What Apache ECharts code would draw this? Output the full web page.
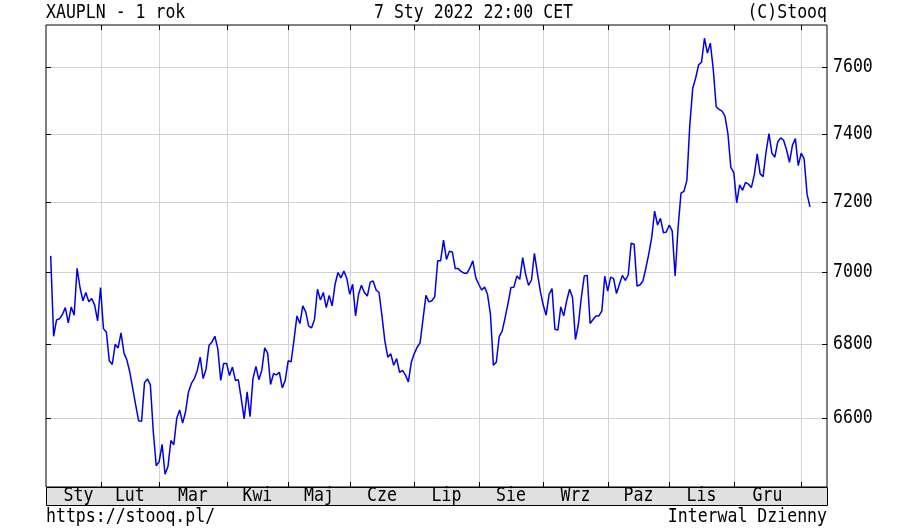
<!DOCTYPE html>
<html><head><meta charset="utf-8">
<script src="https://cdn.jsdelivr.net/npm/echarts@6/dist/echarts.min.js"></script>
<style>html,body{margin:0;padding:0;background:#fff}#c{width:907px;height:528px}</style>
</head><body><div id="c"></div>
<script>
// Daily XAUPLN close, 7 Jan 2021 .. 7 Jan 2022 (trading days)
const prices = [
7045,6821,6866,6869,6881,6900,6858,6902,6879,7010,6956,6919,6942,6916,6925,6907,6863,
6956,6842,6832,6754,6744,6799,6789,6830,6775,6756,6723,6679,6635,6593,6592,6695,6705,6689,6564,6475,
6486,6531,6453,6473,6541,6530,6600,6622,6587,6617,6670,6693,6706,6728,6764,6706,6732,6796,6805,6821,6787,6701,6747,
6747,6714,6737,6701,6703,6652,6598,6670,6604,6706,6739,6703,6728,6789,6775,6690,6719,6716,6723,6681,6701,
6754,6751,6812,6877,6856,6905,6888,6849,6844,6868,6951,6921,6942,6900,6934,6905,6965,6998,6983,7002,6982,
6937,6965,6877,6937,6962,6942,6932,6971,6974,6949,6942,6877,6807,6764,6773,6742,6760,6723,6728,6716,6697,6750,
6773,6791,6803,6868,6934,6916,6919,6930,7031,7031,7090,7035,7058,7056,7009,7009,7001,6996,6996,7011,7031,6983,
6965,6949,6957,6937,6882,6742,6750,6821,6835,6872,6912,6956,6957,6988,6979,7040,6993,6962,6977,7052,6997,6946,
6907,6879,6937,6953,6840,6838,6902,6877,6919,6951,6928,6812,6854,6928,6988,6990,6856,6867,6877,6877,6891,6988,
6946,6985,6981,6939,6965,6990,6976,6991,7081,7078,6960,6963,6974,7010,7050,7097,7173,7133,7152,7111,7113,
7133,7116,6988,7125,7225,7230,7262,7425,7536,7567,7607,7615,7689,7643,7674,7594,7480,7472,7467,7452,7400,7300,
7285,7197,7249,7233,7256,7251,7241,7278,7340,7281,7273,7345,7400,7342,7330,7375,7387,7380,7352,7315,7365,7385,7305,
7342,7325,7222,7185
];
const monthLabels = ['Sty','Lut','Mar','Kwi','Maj','Cze','Lip','Sie','Wrz','Paz','Lis','Gru'];
const monthLabelPos = [9.5,27,48.5,70.5,91.5,113,135,157,179,200.5,222,244.5];
const monthStarts = [17,37,60,81,102,124,146,168,190,211,233,256];
const yTicks = [6600,6800,7000,7200,7400,7600];
const yRange = [6420,7730];
const xRange = [-1.6,264.8];
const headerLeft = 'XAUPLN - 1 rok';
const headerCenter = '7 Sty 2022 22:00 CET';
const headerRight = '(C)Stooq';
const footerLeft = 'https://stooq.pl/';
const footerRight = 'Interwal Dzienny';

const X_MIN = xRange[0], X_MAX = xRange[1];
const Y_MIN = Math.log(yRange[0]), Y_MAX = Math.log(yRange[1]);
const FONT = '19px "DejaVu Sans Mono", monospace';
const SX = 0.87;
const GRIDC = '#d2d2d2';
const px = v => Math.round(v) + 0.5;

function txt(x, y, text, align) {
  return {type:'text', x:x, y:y, scaleX:SX, originX:0, originY:0,
    style:{text:text, fill:'#000', font:FONT, align:align, verticalAlign:'middle',
           textAlign:align, textVerticalAlign:'middle'}};
}

const chart = echarts.init(document.getElementById('c'), null, {renderer:'canvas'});
chart.setOption({
  animation:false,
  backgroundColor:'#fff',
  grid:{left:46, right:80, top:25, bottom:41, show:true, borderColor:'#000', borderWidth:1, backgroundColor:'transparent'},
  xAxis:{type:'value', min:X_MIN, max:X_MAX, show:false},
  yAxis:{type:'value', min:Y_MIN, max:Y_MAX, show:false, scale:true},
  graphic:[
    txt(46, 13, headerLeft, 'left'),
    txt(374, 13, headerCenter, 'left'),
    txt(827, 13, headerRight, 'right'),
    txt(46, 517, footerLeft, 'left'),
    txt(827, 517, footerRight, 'right')
  ],
  series:[
    { // vertical month grid lines + ticks
      type:'custom', z:1, clip:false, silent:true,
      data: monthStarts.map(m => [m, Y_MIN]),
      renderItem:(params, api) => {
        const t = api.coord([api.value(0), Y_MAX]);
        const b = api.coord([api.value(0), Y_MIN]);
        const x = px(t[0]);
        return {type:'group', children:[
          {type:'line', shape:{x1:x,y1:t[1],x2:x,y2:b[1]}, style:{stroke:GRIDC, lineWidth:1}},
          {type:'line', shape:{x1:x,y1:t[1],x2:x,y2:t[1]+5}, style:{stroke:'#000', lineWidth:1}},
          {type:'line', shape:{x1:x,y1:b[1],x2:x,y2:b[1]-5}, style:{stroke:'#000', lineWidth:1}}
        ]};
      }
    },
    { // horizontal price grid lines + ticks + labels
      type:'custom', z:1, clip:false, silent:true,
      data: yTicks.map(v => [X_MIN, Math.log(v), v]),
      renderItem:(params, api) => {
        const l = api.coord([X_MIN, api.value(1)]);
        const r = api.coord([X_MAX, api.value(1)]);
        const y = px(l[1]);
        return {type:'group', children:[
          {type:'line', shape:{x1:l[0],y1:y,x2:r[0],y2:y}, style:{stroke:GRIDC, lineWidth:1}},
          {type:'line', shape:{x1:l[0],y1:y,x2:l[0]+5,y2:y}, style:{stroke:'#000', lineWidth:1}},
          {type:'line', shape:{x1:r[0]-5,y1:y,x2:r[0],y2:y}, style:{stroke:'#000', lineWidth:1}},
          txt(r[0]+6, y, String(api.value(2)), 'left')
        ]};
      }
    },
    { // month band
      type:'custom', z:1, clip:false, silent:true,
      data:[[X_MIN, Y_MIN]],
      renderItem:(params, api) => {
        const a = api.coord([X_MIN, Y_MIN]);
        const b = api.coord([X_MAX, Y_MIN]);
        return {type:'rect', shape:{x:px(a[0]), y:px(a[1]), width:Math.round(b[0]-a[0]), height:18},
                style:{fill:'#e0e0e0', stroke:'#000', lineWidth:1}};
      }
    },
    { // month labels
      type:'custom', z:2, clip:false, silent:true,
      data: monthLabelPos.map((p, i) => [p, Y_MIN, i]),
      renderItem:(params, api) => {
        const a = api.coord([api.value(0), Y_MIN]);
        return txt(a[0], a[1] + 9.5, monthLabels[api.value(2)], 'center');
      }
    },
    {
      type:'line', z:5, silent:true, showSymbol:false, symbol:'none',
      data: prices.map((v, i) => [i, Math.log(v)]),
      lineStyle:{color:'#0000e6', width:1.5},
      clip:true
    }
  ]
});
</script></body></html>
